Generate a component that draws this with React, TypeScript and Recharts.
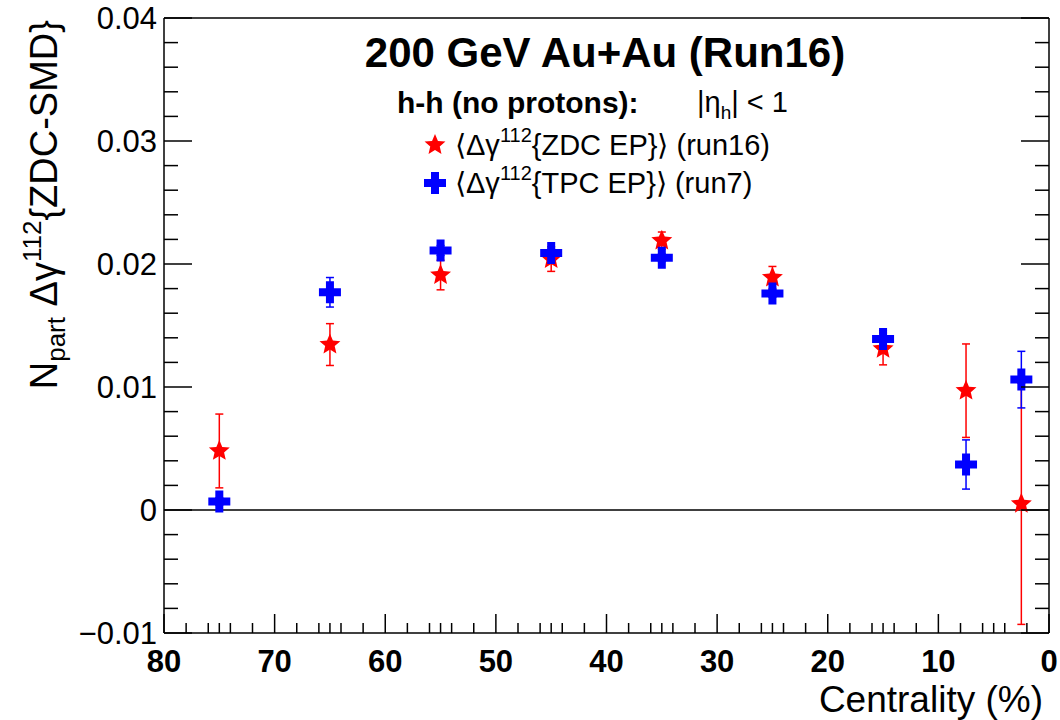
import React from 'react';
import {
    ComposedChart, Scatter, XAxis, YAxis, ErrorBar, ReferenceLine,
} from 'recharts';

// centrality bins (%) and the two measurements
const centrality = [75, 65, 55, 45, 35, 25, 15, 7.5, 2.5];
const zdcValues = [0.0048, 0.01345, 0.0191, 0.0204, 0.0219, 0.0189, 0.0131, 0.0097, 0.0005];
const zdcErrors = [0.0030, 0.0017, 0.0012, 0.0010, 0.0007, 0.0009, 0.0013, 0.0038, 0.0098];
const tpcValues = [0.0007, 0.0177, 0.0211, 0.0209, 0.0205, 0.0176, 0.0139, 0.0037, 0.0106];
const tpcErrors = [0.0003, 0.0012, 0.0004, 0.0003, 0.0003, 0.0003, 0.0007, 0.0020, 0.0023];

const xMajorTicks = [80, 70, 60, 50, 40, 30, 20, 10, 0];
const xMinorOffsets = [2, 4, 5, 6, 8];
const yMajorTicks = [-0.01, 0, 0.01, 0.02, 0.03, 0.04];
const yMinorStep = 0.002;

const FONT = '"Liberation Sans", Arial, Helvetica, sans-serif';
const RED = '#ff0000';
const BLUE = '#0000ff';

const zdcData = centrality.map((c, i) => ({ x: c, y: zdcValues[i], err: zdcErrors[i] }));
const tpcData = centrality.map((c, i) => ({ x: c, y: tpcValues[i], err: tpcErrors[i] }));

const xTicks: number[] = [];
xMajorTicks.forEach((m) => {
    xTicks.push(m);
    if (m < 80) xMinorOffsets.forEach((o) => xTicks.push(m + o));
});
const yTicks: number[] = [];
for (let i = 0; i <= 25; i++) yTicks.push(Number((-0.01 + i * yMinorStep).toFixed(4)));

const isYMajor = (v: number) => yMajorTicks.some((m) => Math.abs(m - v) < 1e-6);
const fmtY = (v: number) => (Math.abs(v) < 1e-9 ? '0' : v < 0 ? '\u2212' + Math.abs(v).toFixed(2) : v.toFixed(2));

function XTick({ x, y, payload }: any) {
    const v = payload.value;
    const major = xMajorTicks.includes(v);
    return (
        <g>
            <line x1={x} x2={x} y1={y} y2={y - (major ? 19 : 10)} stroke="#000" strokeWidth={1.5} />
            {major && (
                <text x={x} y={y + 39} textAnchor="middle" fontSize={31} fontWeight="bold" fontFamily={FONT} fill="#000">
                    {v}
                </text>
            )}
        </g>
    );
}

function YTickLeft({ x, y, payload }: any) {
    const v = payload.value;
    const major = isYMajor(v);
    return (
        <g>
            <line x1={x} x2={x + (major ? 28 : 14)} y1={y} y2={y} stroke="#000" strokeWidth={1.5} />
            {major && (
                <text x={x - 7} y={y + 11} textAnchor="end" fontSize={31} fontFamily={FONT} fill="#000">
                    {fmtY(v)}
                </text>
            )}
        </g>
    );
}

function YTickRight({ x, y, payload }: any) {
    const major = isYMajor(payload.value);
    return <line x1={x} x2={x - (major ? 28 : 14)} y1={y} y2={y} stroke="#000" strokeWidth={1.5} />;
}

function starPoints(cx: number, cy: number, ro: number, ri: number) {
    const pts: string[] = [];
    for (let k = 0; k < 10; k++) {
        const r = k % 2 === 0 ? ro : ri;
        const a = -Math.PI / 2 + (k * Math.PI) / 5;
        pts.push(`${cx + r * Math.cos(a)},${cy + r * Math.sin(a)}`);
    }
    return pts.join(' ');
}

function Star({ cx, cy }: any) {
    if (cx == null || cy == null) return null;
    return <polygon points={starPoints(cx, cy, 11, 5)} fill={RED} />;
}

function Cross({ cx, cy }: any) {
    if (cx == null || cy == null) return null;
    const a = 11, t = 4;
    const d = `M${cx - t},${cy - a}H${cx + t}V${cy - t}H${cx + a}V${cy + t}H${cx + t}V${cy + a}H${cx - t}V${cy + t}H${cx - a}V${cy - t}H${cx - t}Z`;
    return <path d={d} fill={BLUE} />;
}

function Annotations() {
    return (
        <svg width={1060} height={720} style={{ position: 'absolute', left: 0, top: 0, pointerEvents: 'none' }}>
            <g fontFamily={FONT} fill="#000">
                <text x={605} y={67} textAnchor="middle" fontSize={42} fontWeight="bold">200 GeV Au+Au (Run16)</text>
                <text x={397} y={113} fontSize={30} fontWeight="bold">h-h (no protons):</text>
                <text x={697} y={112} fontSize={29}>
                    |η<tspan fontSize={19} dy={7}>h</tspan><tspan dy={-7}>| &lt; 1</tspan>
                </text>
                <text x={455} y={155} fontSize={29}>
                    ⟨Δγ<tspan fontSize={20} dy={-13}>112</tspan><tspan dy={13}>{'{ZDC EP}⟩ (run16)'}</tspan>
                </text>
                <text x={455} y={193} fontSize={29}>
                    ⟨Δγ<tspan fontSize={20} dy={-13}>112</tspan><tspan dy={13}>{'{TPC EP}⟩ (run7)'}</tspan>
                </text>
                <text x={1043} y={712} textAnchor="end" fontSize={37}>Centrality (%)</text>
                <text transform="translate(57,20) rotate(-90)" textAnchor="end" fontSize={38}>
                    N<tspan fontSize={26} dy={8}>part</tspan><tspan dy={-8}>{' Δγ'}</tspan>
                    <tspan fontSize={26} dy={-16}>112</tspan><tspan dy={16}>{'{ZDC-SMD}'}</tspan>
                </text>
            </g>
            <Star cx={435} cy={145} />
            <Cross cx={435} cy={183} />
        </svg>
    );
}

export default function App() {
    return (
        <div style={{ position: 'absolute', left: 0, top: 0, width: 1060, height: 720, background: '#fff' }}>
            <ComposedChart width={1060} height={720} margin={{ top: 18, right: 10, bottom: 0, left: 0 }}>
                <XAxis
                    type="number"
                    dataKey="x"
                    domain={[0, 80]}
                    reversed
                    ticks={xTicks}
                    interval={0}
                    tick={(p: any) => <XTick {...p} />}
                    tickLine={false}
                    tickSize={0}
                    tickMargin={0}
                    axisLine={{ stroke: '#000', strokeWidth: 1.5 }}
                    height={87}
                    allowDataOverflow
                />
                <YAxis
                    yAxisId="left"
                    type="number"
                    dataKey="y"
                    domain={[-0.01, 0.04]}
                    ticks={yTicks}
                    interval={0}
                    tick={(p: any) => <YTickLeft {...p} />}
                    tickLine={false}
                    tickSize={0}
                    tickMargin={0}
                    axisLine={{ stroke: '#000', strokeWidth: 1.5 }}
                    width={164}
                    allowDataOverflow
                />
                <YAxis
                    yAxisId="right"
                    orientation="right"
                    type="number"
                    domain={[-0.01, 0.04]}
                    ticks={yTicks}
                    interval={0}
                    tick={(p: any) => <YTickRight {...p} />}
                    tickLine={false}
                    tickSize={0}
                    tickMargin={0}
                    axisLine={{ stroke: '#000', strokeWidth: 1.5 }}
                    width={1}
                    allowDataOverflow
                />
                <ReferenceLine yAxisId="left" y={0.04} stroke="#000" strokeWidth={1.5} />
                <ReferenceLine yAxisId="left" y={0} stroke="#000" strokeWidth={1.5} />
                <Scatter yAxisId="left" data={zdcData} shape={(p: any) => <Star {...p} />} isAnimationActive={false}>
                    <ErrorBar dataKey="err" direction="y" width={4} stroke={RED} strokeWidth={1.5} />
                </Scatter>
                <Scatter yAxisId="left" data={tpcData} shape={(p: any) => <Cross {...p} />} isAnimationActive={false}>
                    <ErrorBar dataKey="err" direction="y" width={4} stroke={BLUE} strokeWidth={1.5} />
                </Scatter>
            </ComposedChart>
            <Annotations />
        </div>
    );
}
